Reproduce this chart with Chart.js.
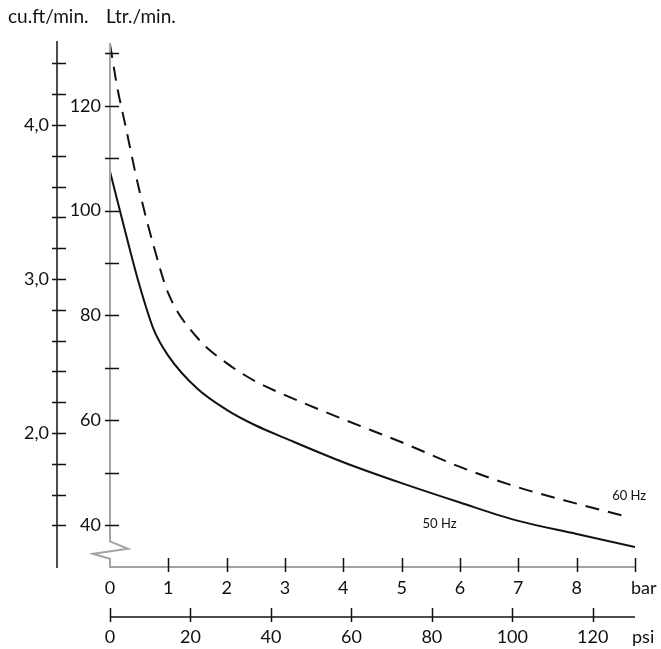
<!DOCTYPE html>
<html>
<head>
<meta charset="utf-8">
<script src="https://cdn.jsdelivr.net/npm/chart.js@4.4.1/dist/chart.umd.min.js"></script>
<style>
  html, body { margin: 0; padding: 0; background: #fff; }
  canvas { display: block; }
</style>
</head>
<body>
<canvas id="flowChart" width="661" height="649"></canvas>
<script>
// pressure in bar, flow in Ltr./min.
const pressure50 = [0, 0.25, 0.5, 0.75, 1, 1.5, 2, 2.5, 3, 4, 5, 6, 7, 8, 9];
const flow50Hz = [107.5, 96.5, 86, 77.3, 72.3, 66, 62, 59, 56.6, 52, 48, 44.3, 40.8, 38.3, 35.8];

const pressure60 = [0, 0.125, 0.25, 0.5, 0.75, 1, 1.5, 2, 2.5, 3, 4, 5, 6, 7, 8, 8.83];
const flow60Hz = [131.8, 123.5, 117, 104, 93.2, 84.2, 75.7, 70.9, 67.4, 64.8, 60.2, 55.8, 51.1, 47.2, 44.1, 41.7];

const ltrTicks = [40, 50, 60, 70, 80, 90, 100, 110, 120, 130];
const ltrLabels = [40, 60, 80, 100, 120];
const cuftTicks = [1.4, 1.6, 1.8, 2.0, 2.2, 2.4, 2.6, 2.8, 3.0, 3.2, 3.4, 3.6, 3.8, 4.0, 4.2, 4.4];
const cuftLabels = [2.0, 3.0, 4.0];
const barTicks = [1, 2, 3, 4, 5, 6, 7, 8, 9];
const barLabels = [0, 1, 2, 3, 4, 5, 6, 7, 8];
const psiTicks = [0, 20, 40, 60, 80, 100, 120];

// series name, and where its label sits (bar, Ltr./min.)
const seriesLabels = [
  { text: "60 Hz", bar: 8.9, ltr: 45.5 },
  { text: "50 Hz", bar: 5.65, ltr: 40.3 }
];

const ink = "#111";
const axisGrey = "#a3a3a3";
const font = "Lato, 'Open Sans', sans-serif";

const toPoints = (xs, ys) => xs.map((v, i) => ({ x: v, y: ys[i] }));

const axesPlugin = {
  id: "pumpAxes",
  afterDraw(chart) {
    const { ctx, chartArea: a, scales } = chart;
    const x = scales.x, y = scales.y, cf = scales.cuft, ps = scales.psi;
    const x0 = x.getPixelForValue(0);
    const base = a.bottom;

    ctx.save();
    ctx.lineCap = "butt";

    // Ltr axis with the break, then bar axis
    const brk = y.getPixelForValue(36.9);
    ctx.strokeStyle = axisGrey;
    ctx.lineWidth = 2;
    ctx.beginPath();
    ctx.moveTo(x0, a.top);
    ctx.lineTo(x0, brk);
    ctx.lineTo(x0 + 18, brk + 7.5);
    ctx.lineTo(x0 - 17, brk + 12.5);
    ctx.lineTo(x0, brk + 17.5);
    ctx.lineTo(x0, base);
    ctx.lineTo(x.getPixelForValue(9), base);
    ctx.stroke();

    // cu.ft axis
    const cx = 57;
    ctx.strokeStyle = ink;
    ctx.lineWidth = 1.5;
    ctx.beginPath();
    ctx.moveTo(cx, a.top - 2);
    ctx.lineTo(cx, base + 1);
    ctx.stroke();

    // psi axis
    const py = 617;
    ctx.beginPath();
    ctx.moveTo(ps.getPixelForValue(0), py);
    ctx.lineTo(ps.getPixelForValue(130.5), py);
    ctx.stroke();

    ctx.beginPath();
    ltrTicks.forEach(v => {
      const p = Math.round(y.getPixelForValue(v)) + 0.5;
      ctx.moveTo(x0 - 5, p); ctx.lineTo(x0 + 9, p);
    });
    cuftTicks.forEach(v => {
      const p = Math.round(cf.getPixelForValue(v)) + 0.5;
      ctx.moveTo(cx - 5, p); ctx.lineTo(cx + 9, p);
    });
    barTicks.forEach(v => {
      const p = Math.round(x.getPixelForValue(v)) + 0.5;
      ctx.moveTo(p, base - 9); ctx.lineTo(p, base + 5);
    });
    psiTicks.forEach(v => {
      const p = Math.round(ps.getPixelForValue(v)) + 0.5;
      ctx.moveTo(p, py - 9); ctx.lineTo(p, py + 5);
    });
    ctx.stroke();

    // tick labels
    ctx.fillStyle = ink;
    ctx.font = "18px " + font;
    ctx.textBaseline = "middle";
    ctx.textAlign = "right";
    ltrLabels.forEach(v => ctx.fillText(String(v), x0 - 9, y.getPixelForValue(v)));
    cuftLabels.forEach(v => ctx.fillText(v.toFixed(1).replace(".", ","), cx - 8, cf.getPixelForValue(v)));
    ctx.textAlign = "center";
    barLabels.forEach(v => ctx.fillText(String(v), x.getPixelForValue(v), 588));
    psiTicks.forEach(v => ctx.fillText(String(v), ps.getPixelForValue(v), 637));

    // units
    ctx.textAlign = "left";
    ctx.fillText("bar", 631, 588);
    ctx.fillText("psi", 632, 637);
    ctx.font = "19px " + font;
    ctx.fillText("cu.ft/min.", 8, 17);
    ctx.fillText("Ltr./min.", 106, 17);

    // series names
    ctx.font = "13px " + font;
    ctx.textAlign = "center";
    seriesLabels.forEach(s => ctx.fillText(s.text, x.getPixelForValue(s.bar), y.getPixelForValue(s.ltr)));

    ctx.restore();
  }
};

new Chart(document.getElementById("flowChart"), {
  type: "line",
  data: {
    datasets: [{
      label: "50 Hz",
      data: toPoints(pressure50, flow50Hz),
      borderColor: ink,
      borderWidth: 2,
      pointRadius: 0,
      cubicInterpolationMode: "monotone",
      xAxisID: "x",
      yAxisID: "y"
    }, {
      label: "60 Hz",
      data: toPoints(pressure60, flow60Hz),
      borderColor: ink,
      borderWidth: 2,
      borderDash: [14, 9],
      pointRadius: 0,
      cubicInterpolationMode: "monotone",
      xAxisID: "x",
      yAxisID: "y"
    }]
  },
  options: {
    responsive: false,
    animation: false,
    devicePixelRatio: 1,
    layout: { padding: { left: 110, right: 26, top: 43, bottom: 82 } },
    plugins: { legend: { display: false }, tooltip: { enabled: false } },
    scales: {
      x: { type: "linear", min: 0, max: 9, display: false },
      psi: { type: "linear", axis: "x", position: "bottom", min: 0, max: 130.5, display: false },
      y: { type: "linear", min: 32, max: 132, display: false },
      cuft: { type: "linear", axis: "y", position: "left", min: 1.13, max: 4.532, display: false }
    }
  },
  plugins: [axesPlugin]
});
</script>
</body>
</html>
